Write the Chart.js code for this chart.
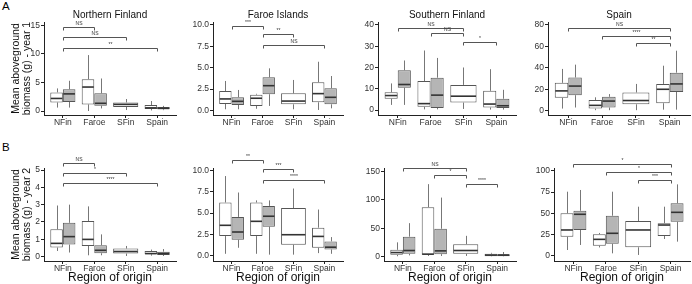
<!DOCTYPE html>
<html><head><meta charset="utf-8">
<script src="https://cdn.jsdelivr.net/npm/chart.js@4.4.1/dist/chart.umd.min.js"></script>
<style>
html,body{margin:0;padding:0;background:#fff;width:692px;height:284px;overflow:hidden;position:relative;font-family:"Liberation Sans",Arial,sans-serif}
.lbl{position:absolute;font-size:11.5px;line-height:11.5px;color:#000}
</style></head><body>
<div class="lbl" style="left:2px;top:0.5px">A</div>
<div class="lbl" style="left:2px;top:141.5px">B</div>
<script>
// ---------------- DATA ----------------
const categories = ['NFin', 'Faroe', 'SFin', 'Spain'];
const panelTitles = ['Northern Finland', 'Faroe Islands', 'Southern Finland', 'Spain'];
const xTitle = 'Region of origin';
const yTitleYear1 = ['Mean aboveground', 'biomass (g) - year 1'];
const yTitleYear2 = ['Mean aboveground', 'biomass (g) - year 2'];

// each box: [min, q1, median, q3, max]; order NFin, Faroe, SFin, Spain (SFin has a single white box)
// Year 1
const y1NorthernFinlandWhite = [[0.6,1.5,2.2,3.26,3.96],[0,1.16,4.2,5.58,9.8],[0.17,0.7,1.16,1.5,2.1],[0.1,0.35,0.55,1.05,1.75]];
const y1NorthernFinlandGrey  = [[0.6,1.6,3.0,3.8,5.3],[0.45,0.93,1.35,3.1,5.7],null,[0.15,0.3,0.47,0.7,0.9]];
const y1NorthernFinlandSig   = [['NFin','Faroe',14.7,'NS'],['NFin','SFin',13.0,'NS'],['NFin','Spain',11.05,'**']];
const y1NorthernFinlandTicks = ['0','5','10','15'];
const y1NorthernFinlandRange = [-0.7, 15.6];

const y1FaroeWhite = [[0.14,0.76,1.35,2.28,3.45],[0.2,0.53,1.43,1.85,1.95],[0.14,0.72,1.1,2.0,3.57],[0.06,0.96,1.97,3.3,5.7]];
const y1FaroeGrey  = [[0.14,0.64,1.07,1.54,2.4],[0.53,1.9,2.9,3.88,4.93],null,[0.25,0.72,1.54,2.6,4.03]];
const y1FaroeSig   = [['NFin','Faroe',9.88,'***'],['Faroe','SFin',8.95,'**'],['Faroe','Spain',7.66,'NS']];
const y1FaroeTicks = ['0.0','2.5','5.0','7.5','10.0'];
const y1FaroeRange = [-0.53, 10.35];

const y1SouthernFinlandWhite = [[2.4,5.3,6.8,8.3,12.5],[0.3,1.5,3.0,13.6,28],[0.5,3.5,6.5,11.8,20],[0.2,1.2,2.8,9.0,19.2]];
const y1SouthernFinlandGrey  = [[2.4,10.5,12,18.7,23.3],[0.3,1.0,7.0,15.2,24.5],null,[0.2,1.0,2.0,5.3,9.5]];
const y1SouthernFinlandSig   = [['NFin','SFin',38.4,'NS'],['Faroe','SFin',36.1,'NS'],['SFin','Spain',31.9,'*']];
const y1SouthernFinlandTicks = ['0','10','20','30','40'];
const y1SouthernFinlandRange = [-2.35, 41.4];

const y1SpainWhite = [[2,12,18.5,26,39],[0.5,2,5,10,12.5],[0.5,6,9.5,17,25],[1,7,20,25,42]];
const y1SpainGrey  = [[3,14.5,23,31,43],[0.5,3,9,13,15.5],null,[1,17.5,25,35.5,56]];
const y1SpainSig   = [['NFin','Spain',77,'NS'],['Faroe','Spain',69.7,'****'],['SFin','Spain',63,'**']];
const y1SpainTicks = ['0','20','40','60','80'];
const y1SpainRange = [-4.0, 82.8];

// Year 2
const y2NorthernFinlandWhite = [[0.32,0.52,0.76,1.57,2.95],[0.07,0.61,0.99,2.05,2.9],[0.03,0.17,0.29,0.46,0.61],[0.05,0.13,0.17,0.32,0.4]];
const y2NorthernFinlandGrey  = [[0.23,0.69,1.15,1.95,3.0],[0.07,0.19,0.36,0.65,1.28],null,[0.03,0.09,0.17,0.28,0.43]];
const y2NorthernFinlandSig   = [['NFin','Faroe',5.42,'NS'],['NFin','SFin',4.81,'*'],['NFin','Spain',4.27,'****']];
const y2NorthernFinlandTicks = ['0','1','2','3','4','5'];
const y2NorthernFinlandRange = [-0.26, 5.12];

const y2FaroeWhite = [[0.2,2.29,3.56,6.25,9.37],[0.2,2.29,4.03,6.25,6.5],[0.1,1.27,2.45,5.6,7.9],[0.28,0.91,2.25,3.28,5.42]];
const y2FaroeGrey  = [[0.91,1.86,2.77,4.55,7.43],[0.1,3.4,4.63,5.85,6.5],null,[0.2,0.71,0.98,1.66,2.17]];
const y2FaroeSig   = [['NFin','Faroe',11.27,'**'],['Faroe','SFin',10.17,'***'],['Faroe','Spain',8.9,'****']];
const y2FaroeTicks = ['0.0','2.5','5.0','7.5','10.0'];
const y2FaroeRange = [-0.65, 10.32];

const y2SouthernFinlandWhite = [[0.5,3,7,11.8,25],[1,3,4.2,87,127.7],[1,4.7,10.6,21.8,36.5],[0,0.5,2.5,5,6.5]];
const y2SouthernFinlandGrey  = [[2,4.7,10.6,35,58.9],[1,4.2,10,49,104],null,[0,0.5,2.6,4,8]];
const y2SouthernFinlandSig   = [['NFin','SFin',157,'NS'],['Faroe','SFin',143,'*'],['SFin','Spain',127.7,'****']];
const y2SouthernFinlandTicks = ['0','50','100','150'];
const y2SouthernFinlandRange = [-7.9, 156.2];

const y2SpainWhite = [[7,22.6,30.5,50,75.4],[10,12.1,19.5,25.4,27],[1.2,10.2,30.5,41,57.8],[19.9,23.4,36.3,38.3,57.8]];
const y2SpainGrey  = [[12.9,30.5,48.9,53,77.4],[3.1,14.4,26.6,47.2,75.4],null,[16.8,40.2,51.2,61.8,84]];
const y2SpainSig   = [['NFin','Spain',107.8,'*'],['Faroe','Spain',98,'*'],['SFin','Spain',89,'***']];
const y2SpainTicks = ['0','25','50','75','100'];
const y2SpainRange = [-5.9, 103.2];

// ---------------- LAYOUT / STYLE ----------------
const FONT = '"Liberation Sans", Arial, sans-serif';
const AXIS = '#222222', TICK = '#333333', BOX_EDGE = '#555555', WHISKER = '#777777', MEDIAN = '#333333', GREY_FILL = '#b5b5b5';
Chart.defaults.font.family = FONT;

const panels = [
  {white:y1NorthernFinlandWhite, grey:y1NorthernFinlandGrey, sig:y1NorthernFinlandSig, ticks:y1NorthernFinlandTicks, range:y1NorthernFinlandRange, ytitle:yTitleYear1},
  {white:y1FaroeWhite, grey:y1FaroeGrey, sig:y1FaroeSig, ticks:y1FaroeTicks, range:y1FaroeRange},
  {white:y1SouthernFinlandWhite, grey:y1SouthernFinlandGrey, sig:y1SouthernFinlandSig, ticks:y1SouthernFinlandTicks, range:y1SouthernFinlandRange},
  {white:y1SpainWhite, grey:y1SpainGrey, sig:y1SpainSig, ticks:y1SpainTicks, range:y1SpainRange},
  {white:y2NorthernFinlandWhite, grey:y2NorthernFinlandGrey, sig:y2NorthernFinlandSig, ticks:y2NorthernFinlandTicks, range:y2NorthernFinlandRange, ytitle:yTitleYear2},
  {white:y2FaroeWhite, grey:y2FaroeGrey, sig:y2FaroeSig, ticks:y2FaroeTicks, range:y2FaroeRange},
  {white:y2SouthernFinlandWhite, grey:y2SouthernFinlandGrey, sig:y2SouthernFinlandSig, ticks:y2SouthernFinlandTicks, range:y2SouthernFinlandRange},
  {white:y2SpainWhite, grey:y2SpainGrey, sig:y2SpainSig, ticks:y2SpainTicks, range:y2SpainRange},
];

const geom = [
  {cx:0,cy:0,cw:180,ch:140,L:44,T:22,R:176,B:115},
  {cx:180,cy:0,cw:170,ch:140,L:213,T:22,R:343,B:115},
  {cx:350,cy:0,cw:170,ch:140,L:378,T:22,R:516,B:115},
  {cx:520,cy:0,cw:172,ch:140,L:548,T:22,R:690,B:115},
  {cx:0,cy:140,cw:180,ch:144,L:44,T:168,R:176,B:261},
  {cx:180,cy:140,cw:170,ch:144,L:213,T:168,R:343,B:261},
  {cx:350,cy:140,cw:170,ch:144,L:384,T:168,R:516,B:261},
  {cx:520,cy:140,cw:172,ch:144,L:554,T:168,R:690,B:261},
];

function boxPlugin(panel) {
  return {
    id: 'boxplotExtras',
    afterDatasetsDraw(chart) {
      const ctx = chart.ctx, xs = chart.scales.x, ys = chart.scales.y;
      ctx.save();
      chart.data.datasets.forEach((ds, d) => {
        const meta = chart.getDatasetMeta(d);
        meta.data.forEach((el, i) => {
          const s = ds.stats[i];
          const cx = Math.round(el.x) + 0.5;
          ctx.strokeStyle = WHISKER; ctx.lineWidth = 1;
          ctx.beginPath();
          ctx.moveTo(cx, ys.getPixelForValue(s[3])); ctx.lineTo(cx, ys.getPixelForValue(s[4]));
          ctx.moveTo(cx, ys.getPixelForValue(s[1])); ctx.lineTo(cx, ys.getPixelForValue(s[0]));
          ctx.stroke();
          const ym = ys.getPixelForValue(s[2]);
          ctx.strokeStyle = MEDIAN; ctx.lineWidth = 1.6;
          ctx.beginPath();
          ctx.moveTo(el.x - el.width / 2 + 0.5, ym); ctx.lineTo(el.x + el.width / 2 - 0.5, ym);
          ctx.stroke();
        });
      });
      ctx.strokeStyle = '#555555'; ctx.lineWidth = 1;
      ctx.fillStyle = '#333333';
      ctx.font = '5px ' + FONT;
      ctx.textAlign = 'center'; ctx.textBaseline = 'bottom';
      panel.sig.forEach(([a, b, v, lab]) => {
        const x1 = Math.round(xs.getPixelForValue(categories.indexOf(a) + 1)) + 0.5;
        const x2 = Math.round(xs.getPixelForValue(categories.indexOf(b) + 1)) + 0.5;
        const yy = Math.round(ys.getPixelForValue(v)) + 0.5;
        ctx.beginPath();
        ctx.moveTo(x1, yy + 3); ctx.lineTo(x1, yy); ctx.lineTo(x2, yy); ctx.lineTo(x2, yy + 3);
        ctx.stroke();
        ctx.fillText(lab, (x1 + x2) / 2, yy - 1);
      });
      ctx.restore();
    }
  };
}

function buildPanel(idx) {
  const panel = panels[idx], g = geom[idx];
  const row = idx < 4 ? 0 : 1, col = idx % 4;
  const cv = document.createElement('canvas');
  cv.width = g.cw; cv.height = g.ch;
  cv.style.cssText = `position:absolute;left:${g.cx}px;top:${g.cy}px;width:${g.cw}px;height:${g.ch}px`;
  document.body.appendChild(cv);

  const whiteData = [], greyData = [], singleData = [], whiteStats = [], greyStats = [], singleStats = [];
  categories.forEach((c, i) => {
    const w = panel.white[i], gr = panel.grey[i];
    if (gr) {
      whiteData.push({x: i + 1, y: [w[1], w[3]]}); whiteStats.push(w);
      greyData.push({x: i + 1, y: [gr[1], gr[3]]}); greyStats.push(gr);
    } else {
      singleData.push({x: i + 1, y: [w[1], w[3]]}); singleStats.push(w);
    }
  });
  const tickVals = panel.ticks.map(Number);
  const padTop = row === 0 ? 0 : g.T - g.cy;
  const yW = g.L - g.cx;
  const xH = g.cy + g.ch - g.B;
  const padRight = g.cx + g.cw - g.R;
  const common = {borderColor: BOX_EDGE, borderWidth: 1, borderSkipped: false, barPercentage: 1, categoryPercentage: 0.8};

  new Chart(cv, {
    type: 'bar',
    data: {datasets: [
      Object.assign({data: whiteData, stats: whiteStats, backgroundColor: '#ffffff', grouped: true}, common),
      Object.assign({data: greyData, stats: greyStats, backgroundColor: GREY_FILL, grouped: true}, common),
      Object.assign({data: singleData, stats: singleStats, backgroundColor: '#ffffff', grouped: false}, common),
    ]},
    options: {
      responsive: false, animation: false, devicePixelRatio: 1, events: [],
      layout: {padding: {left: 0, top: padTop, right: padRight, bottom: 0}, autoPadding: false},
      plugins: {
        legend: {display: false}, tooltip: {enabled: false},
        title: {display: row === 0, text: panelTitles[col], fullSize: false, color: '#111111',
          font: {family: FONT, size: 10, lineHeight: 1.2, weight: 'normal'}, padding: {top: 9, bottom: 1}}
      },
      scales: {
        x: {
          type: 'linear', min: 0.4, max: 4.6, offset: false,
          afterBuildTicks: s => { s.ticks = categories.map((c, i) => ({value: i + 1})); },
          afterFit: s => { s.height = xH; },
          ticks: {callback: v => categories[Math.round(v) - 1], autoSkip: false, maxRotation: 0, minRotation: 0,
            color: TICK, font: {family: FONT, size: 8.5}, padding: 0},
          grid: {display: true, drawOnChartArea: false, drawTicks: true, tickLength: 3, color: AXIS, offset: false},
          border: {display: true, color: AXIS, width: 1},
          title: {display: row === 1, text: xTitle, color: '#111111', font: {family: FONT, size: 12, lineHeight: 1.1}, padding: {top: 0, bottom: 0}}
        },
        y: {
          type: 'linear', min: panel.range[0], max: panel.range[1],
          afterBuildTicks: s => { s.ticks = tickVals.map(v => ({value: v})); },
          afterFit: s => { s.width = yW; },
          ticks: {callback: (v, i) => panel.ticks[i], color: TICK, font: {family: FONT, size: 8.5}, padding: 1},
          grid: {display: true, drawOnChartArea: false, drawTicks: true, tickLength: 3, color: AXIS},
          border: {display: true, color: AXIS, width: 1},
          title: {display: col === 0, text: panel.ytitle || '', color: '#111111', font: {family: FONT, size: 10.5, lineHeight: 1.0}, padding: {top: 11, bottom: 0}}
        }
      }
    },
    plugins: [boxPlugin(panel)]
  });
}
for (let i = 0; i < panels.length; i++) buildPanel(i);
</script></body></html>
